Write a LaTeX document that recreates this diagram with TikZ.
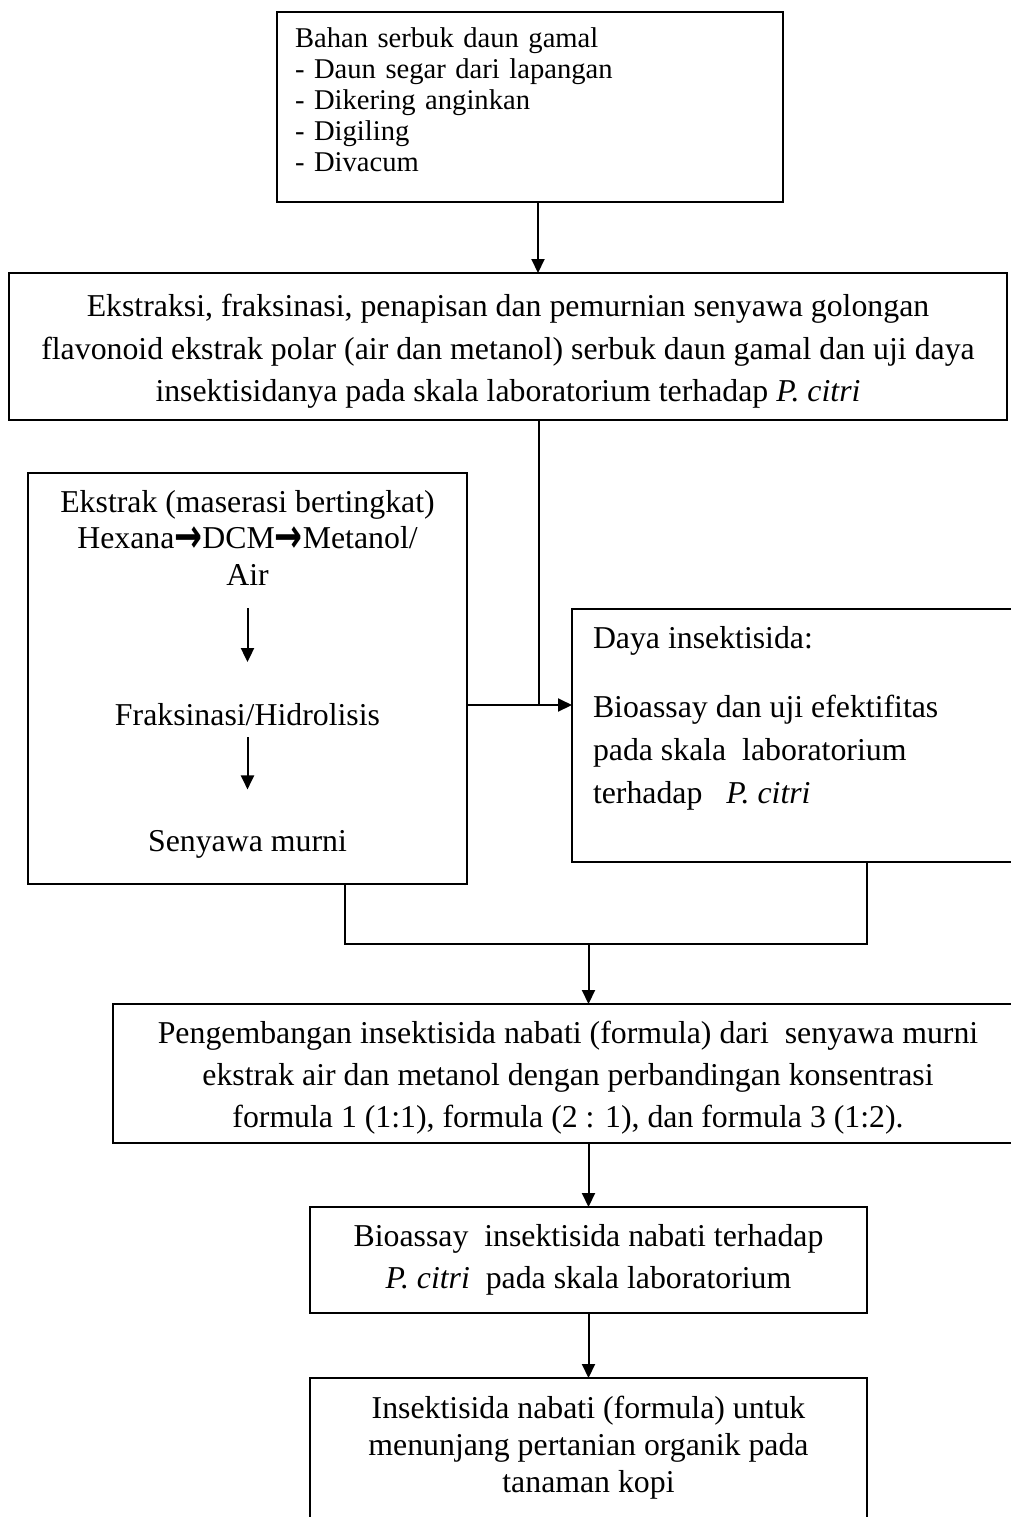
\documentclass[tikz,border=0pt]{standalone}
\usepackage{fontspec}
\setmainfont{Liberation Serif}
\newfontfamily\arrowfont{DejaVu Sans}
\usetikzlibrary{arrows.meta, positioning}

\begin{document}
\begin{tikzpicture}[
    node distance=20pt,
    font=\fontsize{15.9}{21.25}\selectfont,
    >={Triangle[length=7pt, width=6.5pt]},
    base/.style={draw=black, line width=1pt, outer sep=0pt, inner sep=0pt, align=center},
    listbox/.style={base, align=left, text width=235pt, inner xsep=9pt, minimum height=95pt, font=\fontsize{14.3}{15.5}\selectfont},
    mainbox/.style={base, minimum width=499pt, minimum height=73.5pt},
    sidebox/.style={base, minimum width=219.5pt, minimum height=205.5pt},
    testbox/.style={base, minimum width=230pt, minimum height=126.5pt},
    formbox/.style={base, minimum width=455pt, minimum height=69.5pt, font=\fontsize{15.9}{21}\selectfont},
    resultbox/.style={base, minimum width=278.5pt, minimum height=53pt, font=\fontsize{15.9}{21}\selectfont},
    bare/.style={inner sep=0pt, outer sep=0pt, align=center},
    arrow/.style={->, line width=1pt},
    link/.style={line width=0.8pt}
]

\newcommand{\tinyarrow}{{\arrowfont\bfseries\raisebox{-2.2pt}{\scalebox{1.05}[1.5]{→}}}}

% page frame
\useasboundingbox (0,0) rectangle (505.5pt,-758.5pt);
\clip (0,0) rectangle (505.5pt,-758.5pt);

% Top
\node[listbox] (bahan) at (265pt,-53.5pt) {Bahan serbuk daun gamal\\- Daun segar dari lapangan\\- Dikering anginkan\\- Digiling\\- Divacum\rule[-7pt]{0pt}{0pt}};
\node[mainbox, below=35.5pt of bahan, xshift=-11pt] (ekstraksi) {\rule{0pt}{16pt}Ekstraksi, fraksinasi, penapisan dan pemurnian senyawa golongan\\flavonoid ekstrak polar (air dan metanol) serbuk daun gamal dan uji daya\\insektisidanya pada skala laboratorium terhadap \textit{P. citri}};

% Left Column
\node[sidebox, below right=26.5pt and 9.5pt of ekstraksi.south west] (ekstrak) {};
\node[bare, below=8.5pt of ekstrak.north, font=\fontsize{15.9}{18.25}\selectfont] (pelarut) {Ekstrak (maserasi bertingkat)\\Hexana\tinyarrow DCM\tinyarrow Metanol/\\Air};
\node[bare, below=59pt of pelarut] (fraksinasi) {Fraksinasi/Hidrolisis};
\node[bare, below=52.5pt of fraksinasi] (murni) {Senyawa murni};

% Right Column
\node[testbox, below right=68pt and 52.5pt of ekstrak.north east] (daya) {};
\node[bare, align=left, anchor=north west, font=\fontsize{15.9}{21.5}\selectfont] (dayateks) at ([xshift=10.5pt, yshift=-8.5pt]daya.north west) {Daya insektisida:\\[13pt]Bioassay dan uji efektifitas\\pada skala\ \ laboratorium\\terhadap\ \ \ \textit{P. citri}};

% Bottom
\node[formbox, below right=60pt and 42.5pt of ekstrak.south west] (pengembangan) {\rule{0pt}{15pt}Pengembangan insektisida nabati (formula) dari\ \ senyawa murni\\ekstrak air dan metanol dengan perbandingan konsentrasi\\formula 1 (1:1), formula (2 : 1), dan formula 3 (1:2).};
\node[resultbox, below right=32pt and 98.5pt of pengembangan.south west] (bioassay) {Bioassay\ \ insektisida nabati terhadap\\\textit{P. citri}\ \ pada skala laboratorium};
\node[resultbox, minimum height=70pt, below=32.5pt of bioassay, font=\fontsize{15.9}{18.5}\selectfont] (hasil) {Insektisida nabati (formula) untuk\\menunjang pertanian organik pada\\tanaman kopi};

% Connections
\coordinate (simpang) at ([shift={(-16.5pt,-48pt)}]daya.north west);
\coordinate (gabung) at ([shift={(48.75pt,-30pt)}]ekstrak.south);

\draw[arrow] ([xshift=4pt]bahan.south) -- ([xshift=4pt]bahan.south |- ekstraksi.north);
\draw[link] (ekstraksi.south -| simpang) -- (simpang);
\draw[arrow] (ekstrak.east |- simpang) -- (daya.west |- simpang);

% inside the extraction box
\draw[arrow, shorten <=11.5pt, shorten >=20.5pt] (pelarut) -- (fraksinasi);
\draw[arrow, shorten <=6pt, shorten >=20.5pt] (fraksinasi) -- (murni);

% merge into formula
\draw[link] (ekstrak.south -| gabung) -- (gabung) -| ([xshift=147.5pt]daya.south west);
\draw[arrow] (gabung -| bioassay.north) -- (pengembangan.north -| bioassay.north);

\draw[arrow] (pengembangan.south -| bioassay.north) -- (bioassay.north);
\draw[arrow] (bioassay) -- (hasil);

\end{tikzpicture}
\end{document}
